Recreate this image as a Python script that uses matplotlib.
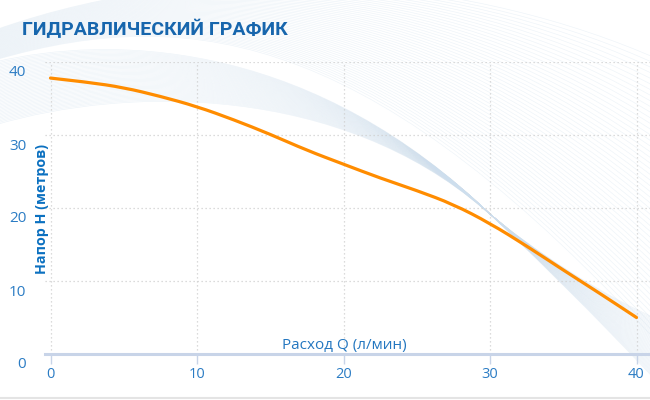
import numpy as np
import matplotlib
matplotlib.use('Agg')
import matplotlib.pyplot as plt
from matplotlib.path import Path
from matplotlib.patches import PathPatch
from matplotlib.transforms import ScaledTranslation

# Data
flow = [0, 2.5, 5, 7.5, 10, 12.5, 15, 17.5, 20, 22.5, 25, 27.5, 30, 32.5, 35, 37.5, 40]
head = [37.8, 37.25, 36.5, 35.3, 33.9, 32.1, 30.1, 27.9, 26.0, 24.1, 22.4, 20.5, 17.9, 14.8, 11.5, 8.3, 5.0]

x_ticks = [0, 10, 20, 30, 40]
y_ticks = [0, 10, 20, 30, 40]

title = 'ГИДРАВЛИЧЕСКИЙ ГРАФИК'
x_label = 'Расход Q (л/мин)'
y_label = 'Напор H (метров)'

W, H = 650, 400
fig = plt.figure(figsize=(W / 100, H / 100), dpi=100)

# ---------------- decorative background waves (pixel coords) ----------------
bg = fig.add_axes([0, 0, 1, 1], zorder=0)
bg.set_xlim(0, W)
bg.set_ylim(H, 0)
bg.axis('off')


def ribbon(edge_a, edge_b, n, color, lw, alpha):
    a = np.array(edge_a, float)
    b = np.array(edge_b, float)
    codes = [Path.MOVETO] + [Path.CURVE4] * (len(a) - 1)
    for t in np.linspace(0, 1, n):
        p = Path(a + (b - a) * t, codes)
        bg.add_patch(PathPatch(p, fc='none', ec=color, lw=lw, alpha=alpha))


# band arching over the top left, pinching near (480, 205), then down to the bottom right
ribbon([(-5, 62), (110, 35), (300, 40), (475, 200), (519, 241), (600, 320), (660, 385)],
       [(-5, 125), (130, 85), (340, 85), (485, 210), (530, 249), (610, 300), (660, 320)],
       45, '#cddeed', 0.45, 0.38)
# wide fan of arcs over the top and right
ribbon([(-5, 30), (220, -50), (480, -20), (660, 60)],
       [(-5, 60), (200, 0), (380, 40), (660, 345)],
       50, '#d3e2ef', 0.45, 0.4)

# ---------------- main chart ----------------
x0, x1 = 45, 650           # pixel extent of plot area
px_per_x = (636.5 - 50.5) / 40
y_top, y_bot = 62, 354
ax = fig.add_axes([x0 / W, 1 - y_bot / H, (x1 - x0) / W, (y_bot - y_top) / H], zorder=1)
ax.set_facecolor('none')
ax.set_xlim(-(50.5 - x0) / px_per_x, (x1 - 50.5) / px_per_x)
ax.set_ylim(0, 40)

grid_kw = dict(color='#d0d0d0', lw=0.9, ls=(0, (1, 2.2)), zorder=1)
for gx in x_ticks:
    ax.axvline(gx, **grid_kw)
for gy in y_ticks[1:]:
    ax.axhline(gy, **grid_kw)

# smooth spline-like path through the read points (quadratic segments via midpoints)
pts = np.column_stack([flow, head])
verts = [pts[0]]
codes = [Path.MOVETO]
for i in range(1, len(pts) - 1):
    verts += [pts[i], (pts[i] + pts[i + 1]) / 2]
    codes += [Path.CURVE3, Path.CURVE3]
verts.append(pts[-1])
codes.append(Path.LINETO)
ax.add_patch(PathPatch(Path(verts, codes), fc='none', ec='#ff8c00', lw=2.3,
                       capstyle='round', joinstyle='round', zorder=3))

for s in ['top', 'right', 'left']:
    ax.spines[s].set_visible(False)
ax.spines['bottom'].set_color('#c8d4e8')
ax.spines['bottom'].set_linewidth(2.2)

ax.set_xticks(x_ticks)
ax.set_xticklabels([str(v) for v in x_ticks])
ax.set_yticks(y_ticks)
ax.set_yticklabels([str(v) for v in y_ticks])
ax.tick_params(axis='x', length=7.5, width=1, color='#c8d4e8', pad=1.5,
               labelcolor='#2b7cc4', labelsize=10.5)
ax.tick_params(axis='y', length=0, pad=13.5, labelcolor='#2b7cc4', labelsize=11)
for lab in ax.get_xticklabels() + ax.get_yticklabels():
    lab.set_fontfamily('Open Sans')
# y labels sit a bit below their grid lines
off = ScaledTranslation(0, -9 / 100, fig.dpi_scale_trans)
for lab in ax.get_yticklabels():
    lab.set_transform(lab.get_transform() + off)

fig.text(344 / W, 1 - 345 / H, x_label, ha='center', va='center',
         fontsize=11, color='#2477c0', family='Open Sans')
fig.text(42 / W, 1 - 209 / H, y_label, ha='center', va='center', rotation=90,
         fontsize=10.3, fontweight='bold', color='#0b70c0', family='Open Sans')

fig.text(22 / W, 1 - 35 / H, title, ha='left', va='baseline',
         fontsize=14, fontweight='bold', color='#1766ad', family='Roboto')

# thin gray line along the bottom edge
fig.add_artist(plt.Line2D([0, 1], [1 - 398 / H, 1 - 398 / H], color='#e4e4e4', lw=1.5))

fig.savefig('out.png', dpi=100)
